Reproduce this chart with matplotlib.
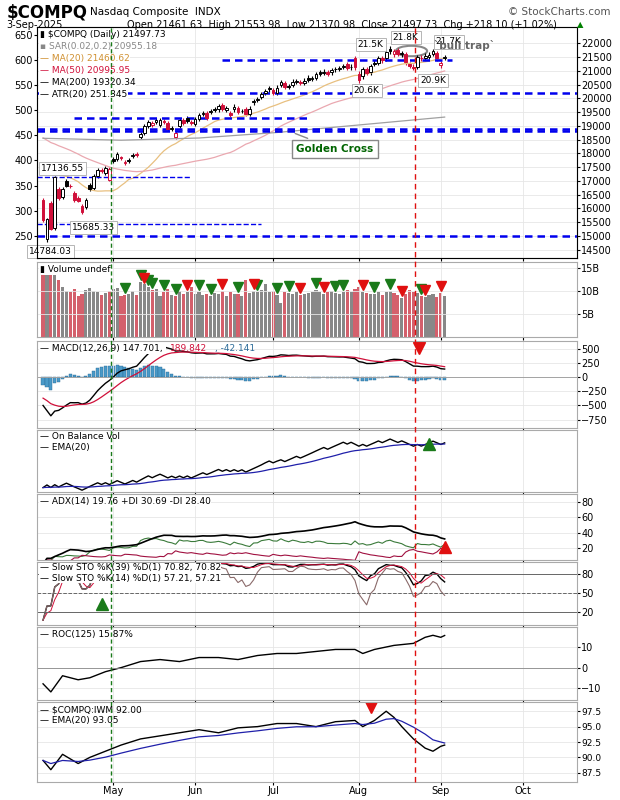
import numpy as np, pandas as pd
import matplotlib
matplotlib.use("Agg")
import matplotlib.pyplot as plt
from matplotlib.patches import Rectangle, Ellipse
from matplotlib.lines import Line2D

prior_closes = [19756,19754,19954,19524,19341,19733,19632,19681,19627,
 19391,19654,19692,19791,19523,19714,19643,19649,19945,20027,20026,20041,20056,19962,19524,19087,19026,18544,18847,
 18350,18285,18553,18069,18197,17468,17436,17649,17303,17754,17808,17504,17691,17750,17692,17784,18188,18271,18122,17899,17804,17323,17299,17449,17601,16551]
opens = [16300,14900,16200,15290,16700,16400,17000,16800,16550,16380,16100,16050,16850,16750,17180,17400,17300,17050,
 17800,17800,17850,17650,17750,17900,17980,18600,18750,19000,19050,19150,19050,19180,19100,18880,18600,19000,19200,19300,19150,
 19080,19250,19420,19470,19500,19600,19600,19750,19570,19450,19600,19650,19530,19600,19450,19850,19950,20050,20200,20330,
 20300,20200,20480,20550,20450,20500,20600,20550,20550,20750,20700,20750,20950,20930,20960,20950,21050,21070,21150,21250,21150,21450,
 20900,20800,21050,20950,21300,21300,21450,21450,21800,21600,21750,21600,21600,21250,21150,21150,21480,21450,21500,21610,21650,21200,21462]
closes = [15588,15603,15268,17125,16387,16724,16831,16824,16307,16286,15870,16300,16708,17166,17383,17366,17461,17446,
 17710,17978,17844,17690,17738,17929,17928,18708,18983,19146,19112,19211,19215,19143,18873,18925,18737,19199,19101,19175,19114,
 19243,19399,19461,19298,19530,19591,19715,19615,19662,19407,19701,19521,19546,19447,19631,19913,19973,20168,20273,20370,
 20202,20394,20601,20412,20419,20611,20630,20586,20640,20677,20730,20885,20896,20974,20892,21020,21058,21108,21179,21098,21130,21122,
 20650,21053,20916,21169,21243,21450,21385,21682,21713,21710,21623,21630,21315,21172,21100,21497,21449,21544,21590,21705,21456,21280,21498]
volumes = [13.5,14.5,13.8,15.2,12.5,11.0,10.0,9.8,10.5,9.0,9.5,10.2,10.8,10.0,9.8,9.2,9.6,10.0,
 10.5,10.8,9.0,9.2,9.5,10.0,9.2,12.0,11.5,11.0,10.2,10.5,9.0,9.8,10.5,9.2,9.0,10.0,9.5,9.8,11.0,
 9.5,9.8,9.2,9.5,9.0,9.6,9.4,10.0,9.0,9.8,9.5,9.4,9.0,12.5,9.6,10.0,9.8,10.2,11.5,9.8,
 10.0,9.2,7.5,9.8,9.6,9.5,9.8,9.2,9.4,9.6,9.8,10.2,9.8,9.5,9.8,10.0,9.6,9.4,9.8,10.2,9.8,10.5,
 11.0,9.8,9.6,9.5,9.4,9.8,9.2,9.8,10.0,9.6,9.2,8.6,9.4,10.2,9.8,9.6,9.0,8.8,9.2,9.4,8.8,9.6,9.0]
green_arrows = [21,25,27,28,31,34,40,43,50,55,60,63,70,75,77,85,89,97]
red_arrows = [26,37,46,54,66,72,82,92,98,102]
ma200_idx = [0, 20, 40, 60, 80, 103]
ma200_val = [18550, 18480, 18560, 18760, 19020, 19320]
roc_idx = [0,2,5,9,12,16,20,25,30,35,40,45,50,55,60,65,70,75,80,82,85,90,95,98,100,102,103]
roc_val = [-8,-12,-4,-6,-5,-2,0,3,4,3,5,5,4,6,7,7,8,9,9,7,9,11,12,15,16,15,15.9]
ratio_idx = [0,2,5,9,12,16,20,25,30,35,40,45,50,55,60,65,70,75,80,82,85,88,90,92,95,98,100,102,103]
ratio_val = [89.5,88,90.5,89,90,91,92,93,93.5,94,94.5,94,94.8,95,95.5,95.5,95,95.8,96,95,96,97.5,96.5,95,93,91.5,91,91.8,92]

n = min(len(opens), len(closes), len(volumes))
o = np.array(opens[:n], float); c = np.array(closes[:n], float); v = np.array(volumes[:n])
hi = np.maximum(o, c) * 1.004; lo = np.minimum(o, c) * 0.996
lo[1] = 14784.03
full_c = pd.Series(prior_closes + list(c))
p = len(prior_closes)
ma20 = full_c.rolling(20).mean().values[p:]
ma50 = full_c.rolling(50).mean().values[p:]
ema12 = full_c.ewm(span=12, adjust=False).mean(); ema26 = full_c.ewm(span=26, adjust=False).mean()
macd = (ema12 - ema26); sig = macd.ewm(span=9, adjust=False).mean()
macd = macd.values[p:]; sig = sig.values[p:]; hist = macd - sig
prevc = np.r_[prior_closes[-1], c[:-1]]
obv = np.cumsum(np.where(c > prevc, v, np.where(c < prevc, -v, 0)))
obv_ema = pd.Series(obv).ewm(span=20, adjust=False).mean().values
tr = np.maximum(hi - lo, np.maximum(abs(hi - prevc), abs(lo - prevc)))
ph = np.r_[hi[0], hi[:-1]]; pl = np.r_[lo[0], lo[:-1]]
up = hi - ph; dn = pl - lo
pdm = np.where((up > dn) & (up > 0), up, 0); ndm = np.where((dn > up) & (dn > 0), dn, 0)
w = lambda a: pd.Series(a).ewm(alpha=1/14, adjust=False).mean().values
atr = w(tr); pdi = 100*w(pdm)/atr; ndi = 100*w(ndm)/atr
dx = 100*abs(pdi-ndi)/(pdi+ndi+1e-9); adx = w(dx)
def sto(k):
    hh = pd.Series(hi).rolling(k, min_periods=1).max(); ll = pd.Series(lo).rolling(k, min_periods=1).min()
    fk = 100*(c-ll)/(hh-ll+1e-9)
    sk = fk.rolling(3, min_periods=1).mean()
    return sk.values, sk.rolling(3, min_periods=1).mean().values
s39, s39d = sto(39); s14, s14d = sto(14)

hol = ["2025-04-18","2025-05-26","2025-06-19","2025-07-04","2025-09-01"]
cbd = pd.offsets.CustomBusinessDay(holidays=hol)
dates = pd.date_range("2025-04-04", "2025-10-31", freq=cbd)
x = np.arange(n); xmax = n + 33
month_pos = [i for i in range(1, len(dates)) if dates[i].month != dates[i-1].month and i < xmax]
month_lab = [dates[i].strftime("%b") for i in month_pos]

fig = plt.figure(figsize=(6.2, 8), dpi=100)
fig.patch.set_facecolor("white")
L, W = 0.06, 0.871
RED = "#d0103a"; BLUE = "#0000ee"
fig.text(0.01, 0.985, "$COMPQ", fontsize=12, fontweight="bold", va="center")
fig.text(0.145, 0.985, "Nasdaq Composite  INDX", fontsize=7.5, va="center")
fig.text(0.985, 0.985, "© StockCharts.com", fontsize=7.5, color="#555", ha="right", va="center")
fig.text(0.01, 0.969, "3-Sep-2025", fontsize=7, va="center")
fig.text(0.205, 0.969, "Open 21461.63  High 21553.98  Low 21370.98  Close 21497.73  Chg +218.10 (+1.02%)",
         fontsize=7, va="center")
fig.text(0.93, 0.969, "▲", fontsize=6, color="green", va="center")

def mk(bottom, h):
    ax = fig.add_axes([L, bottom, W, h])
    ax.set_xlim(-1.5, xmax)
    ax.yaxis.tick_right(); ax.tick_params(labelsize=7, length=2, pad=1)
    ax.set_xticks(month_pos); ax.set_xticklabels([])
    ax.grid(True, color="#e6e6e6", lw=0.6)
    for s in ax.spines.values(): s.set_color("#aaa")
    return ax

# main
ax = mk(0.6775, 0.289)
ax.set_ylim(14200, 22600)
ax2 = ax.twinx(); ax2.set_ylim(14200, 22600)
ax.yaxis.tick_right()
ax.set_yticks(range(14500, 22001, 500)); ax.set_yticklabels([str(t) for t in range(14500, 22001, 500)], fontsize=7)
lt = [250,300,350,400,450,500,550,600,650]
ax2.yaxis.tick_left(); ax2.set_yticks([15000 + (t-250)*18.3 for t in lt]); ax2.set_yticklabels([str(t) for t in lt], fontsize=7)
ax2.tick_params(length=2, pad=1)
for i in range(n):
    col = RED if c[i] < prevc[i] else "black"
    ax.vlines(i, lo[i], hi[i], color=col, lw=0.8)
    b0, b1 = min(o[i], c[i]), max(o[i], c[i])
    ax.add_patch(Rectangle((i-0.35, b0), 0.7, max(b1-b0, 15), fc=("white" if c[i] > o[i] else col), ec=col, lw=0.7, zorder=3))
ax.plot(x, ma20, color="#e8c080", lw=0.9)
ax.plot(x, ma50, color="#eaa8b0", lw=0.9)
ax.plot(ma200_idx, ma200_val, color="#a0a0a0", lw=0.9)
dash = dict(color=BLUE, lw=1.8, ls=(0, (3, 2)))
ax.axhline(20200, **dash); ax.axhline(18900, **dash); ax.axhline(18800, **dash); ax.axhline(15000, **dash)
ax.hlines(21400, 46, n + 1, **dash); ax.hlines(19290, 8, 68, **dash); ax.hlines(17136, -1.5, 38, color=BLUE, lw=1, ls="--")
ax.hlines(15450, -1.5, 56, color=BLUE, lw=1, ls="--")
bb = dict(fc="white", ec="#aaa", pad=1.5, lw=0.6)
for xx, yy, s in [(84, 21950, "21.5K"), (93, 22200, "21.8K"), (104, 22050, "21.7K"), (83, 20280, "20.6K"), (100, 20640, "20.9K"),
                  (5, 17450, "17136.55"), (13, 15300, "15685.33"), (2, 14450, "14784.03")]:
    ax.text(xx, yy, s, fontsize=6.5, ha="center", va="center", bbox=bb)
ax.add_patch(Ellipse((94.5, 21720), 8, 380, fill=False, ec="#888", lw=1.5))
ax.text(108, 21800, "`bull trap`", fontsize=7.5, color="#666", fontweight="bold", ha="center")
ax.annotate("Golden Cross", xy=(64, 18760), xytext=(65, 18050), fontsize=7.5, color="#006400", fontweight="bold",
            bbox=dict(fc="white", ec="#888", pad=3), arrowprops=dict(arrowstyle="-", color="#888"))
leg = [("▮ $COMPQ (Daily) 21497.73", "black"), ("▪ SAR(0.02,0.2) 20955.18", "#888"), ("— MA(20) 21460.62", "#d09030"),
       ("— MA(50) 20995.95", RED), ("— MA(200) 19320.34", "black"), ("— ATR(20) 251.345", "black")]
for k, (s, col) in enumerate(leg):
    ax.text(0.005, 0.985 - k*0.052, s, transform=ax.transAxes, fontsize=6.5, va="top", color=col,
            bbox=dict(fc="white", ec="none", pad=0.3))
ax.set_xticklabels(month_lab, fontsize=7)

# volume
av = mk(0.579, 0.094)
vc = np.where(c < prevc, "#d4606c", "#888888")
av.bar(x, v, width=0.8, color=vc)
av.set_ylim(0, 16.5); av.set_yticks([5, 10, 15]); av.set_yticklabels(["5B", "10B", "15B"])
av.plot(green_arrows, [v[i] + 1.5 for i in green_arrows if i < n], "v", color="#1a7a1a", ms=7)
av.plot([i for i in red_arrows if i < n], [v[i] + 1.5 for i in red_arrows if i < n], "v", color="#e01010", ms=7)
av.text(0.005, 0.95, "▮ Volume undef", transform=av.transAxes, fontsize=6.5, va="top", bbox=dict(fc="white", ec="none", pad=0.3))

# MACD
am = mk(0.465, 0.109)
am.bar(x, hist, width=0.8, color="#4a9ac8", ec="#2a6a98", lw=0.3)
am.plot(x, macd, color="black", lw=1); am.plot(x, sig, color=RED, lw=0.9)
am.axhline(0, color="#888", lw=0.5)
am.set_ylim(-900, 650); am.set_yticks([-750, -500, -250, 0, 250, 500])
am.text(0.005, 0.96, "— MACD(12,26,9) 147.701, ", transform=am.transAxes, fontsize=6.5, va="top", bbox=dict(fc="white", ec="none", pad=0.3))
am.text(0.245, 0.96, "189.842", transform=am.transAxes, fontsize=6.5, va="top", color=RED)
am.text(0.33, 0.96, ", -42.141", transform=am.transAxes, fontsize=6.5, va="top", color="#2a6a98")
am.plot([96.5], [520], "v", color="#e01010", ms=8)

# OBV
ao = mk(0.385, 0.0775)
ao.plot(x, obv, color="black", lw=1); ao.plot(x, obv_ema, color="#2020aa", lw=0.9)
ao.set_yticks([]); ao.set_ylim(obv.min() - 10, obv.max() + 50)
ao.plot([99], [obv.max() - 25], "^", color="#1a7a1a", ms=9)
ao.text(0.005, 0.96, "— On Balance Vol\n— EMA(20)", transform=ao.transAxes, fontsize=6.5, va="top", linespacing=1.2)

# ADX
aa = mk(0.30, 0.0825)
aa.plot(x, pdi, color="#3a7a3a", lw=0.8); aa.plot(x, ndi, color="#a01040", lw=0.8); aa.plot(x, adx, color="black", lw=1.2)
aa.set_ylim(5, 90); aa.set_yticks([20, 40, 60, 80])
aa.plot([103], [22], "^", color="#e01010", ms=8)
aa.text(0.005, 0.96, "— ADX(14) 19.76 +DI 30.69 -DI 28.40", transform=aa.transAxes, fontsize=6.5, va="top", bbox=dict(fc="white", ec="none", pad=0.3))

# STO
ast = mk(0.219, 0.079)
ast.plot(x, s39, color="black", lw=1); ast.plot(x, s39d, color=RED, lw=0.7)
ast.plot(x, s14, color="#8a6a6a", lw=0.8)
for lv in [80, 50, 20]: ast.axhline(lv, color="#666", lw=0.7, ls=("--" if lv == 50 else "-"))
ast.set_ylim(0, 100); ast.set_yticks([20, 50, 80])
ast.plot([15], [33], "^", color="#1a7a1a", ms=8)
ast.text(0.005, 0.97, "— Slow STO %K(39) %D(1) 70.82, 70.82\n— Slow STO %K(14) %D(1) 57.21, 57.21", transform=ast.transAxes,
         fontsize=6.5, va="top", linespacing=1.15, bbox=dict(fc="white", ec="none", pad=0.3))

# ROC
ar = mk(0.125, 0.091)
ar.plot(roc_idx, roc_val, color="black", lw=1); ar.axhline(0, color="#888", lw=0.6)
ar.set_ylim(-16, 20); ar.set_yticks([-10, 0, 10])
ar.text(0.005, 0.96, "— ROC(125) 15.87%", transform=ar.transAxes, fontsize=6.5, va="top")

# ratio
aq = mk(0.0225, 0.10)
aq.plot(ratio_idx, ratio_val, color="black", lw=1)
rema = pd.Series(ratio_val).ewm(span=5, adjust=False).mean().values
aq.plot(ratio_idx, rema, color="#2020aa", lw=0.9)
aq.set_ylim(86, 99); aq.set_yticks([87.5, 90, 92.5, 95, 97.5]); aq.set_yticklabels(["87.5", "90.0", "92.5", "95.0", "97.5"], fontsize=6.5)
aq.plot([84], [98.2], "v", color="#e01010", ms=8)
aq.text(0.005, 0.96, "— $COMPQ:IWM 92.00\n— EMA(20) 93.05", transform=aq.transAxes, fontsize=6.5, va="top", linespacing=1.2)
aq.set_xticklabels(month_lab, fontsize=7)

for xi, col in [(17.5, "#1a7a1a"), (95.5, "#e01010")]:
    xf = ax.transData.transform((xi, 0))[0] / fig.bbox.width
    fig.add_artist(Line2D([xf, xf], [0.0225, 0.966], color=col, lw=1.0, ls=(0, (3, 2)) if col != "#e01010" else (0, (4, 3))))
fig.savefig("out.png", dpi=100)
